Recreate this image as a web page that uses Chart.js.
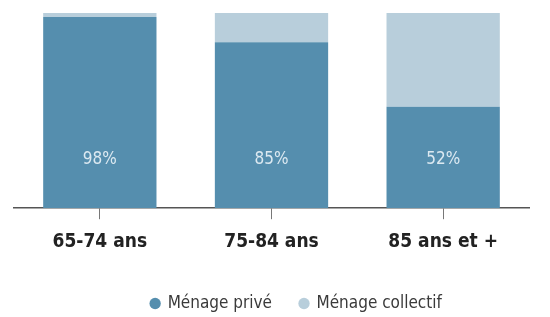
<!DOCTYPE html>
<html>
<head>
<meta charset="utf-8">
<script src="https://cdn.jsdelivr.net/npm/chart.js@4/dist/chart.umd.min.js"></script>
<style>
  html, body { margin: 0; padding: 0; background: #fff; }
  #wrap { width: 550px; height: 317px; }
</style>
</head>
<body>
<div id="wrap"><canvas id="myChart"></canvas></div>
<script>
const categories = ["65-74 ans", "75-84 ans", "85 ans et +"];
const prive = [98, 85, 52];
const collectif = [2, 15, 48];
const seriesNames = ["Ménage privé", "Ménage collectif"];

const fontFamily = "'Liberation Sans Narrow', 'DejaVu Sans Condensed', 'Open Sans', sans-serif";

// labels "98%" etc sit low in the dark bar
const labelPlugin = {
  id: "barLabels",
  afterLayout(chart) {
    // legend sits a little right of centre and lower in the original
    chart.legend.left += 25;
    chart.legend.right += 25;
    chart.legend.top += 5;
    chart.legend.bottom += 5;
  },
  afterDatasetsDraw(chart) {
    const ctx = chart.ctx;
    const meta = chart.getDatasetMeta(0);
    ctx.save();
    ctx.fillStyle = "#dce9f1";
    ctx.font = "17px " + fontFamily;
    ctx.textAlign = "center";
    ctx.textBaseline = "middle";
    meta.data.forEach((bar, i) => {
      ctx.fillText(prive[i] + "%", bar.x, bar.base - 49);
    });
    ctx.restore();
  }
};

const ctx = document.getElementById("myChart");
new Chart(ctx, {
  type: "bar",
  data: {
    labels: categories,
    datasets: [
      { label: seriesNames[0], data: prive, backgroundColor: "#558eae" },
      { label: seriesNames[1], data: collectif, backgroundColor: "#b8cedb" }
    ]
  },
  options: {
    responsive: true,
    maintainAspectRatio: false,
    animation: false,
    layout: { padding: { top: 13, left: 14, right: 21, bottom: 0 } },
    datasets: { bar: { barPercentage: 0.66, categoryPercentage: 1 } },
    scales: {
      x: {
        stacked: true,
        grid: { offset: false, drawOnChartArea: false, tickLength: 11, color: "#777", lineWidth: 1 },
        border: { color: "#555", width: 1.5 },
        ticks: {
          color: "#222",
          padding: 11,
          font: { family: fontFamily, size: 19, weight: "bold" }
        },
        afterFit(scale) { scale.height -= 2; }
      },
      y: { stacked: true, min: 0, max: 100, display: false }
    },
    plugins: {
      tooltip: { enabled: false },
      legend: {
        position: "bottom",
        labels: {
          usePointStyle: true,
          pointStyle: "circle",
          boxWidth: 8,
          boxHeight: 8,
          padding: 28,
          color: "#3a3a3a",
          font: { family: fontFamily, size: 17 }
        }
      }
    }
  },
  plugins: [labelPlugin]
});
</script>
</body>
</html>
